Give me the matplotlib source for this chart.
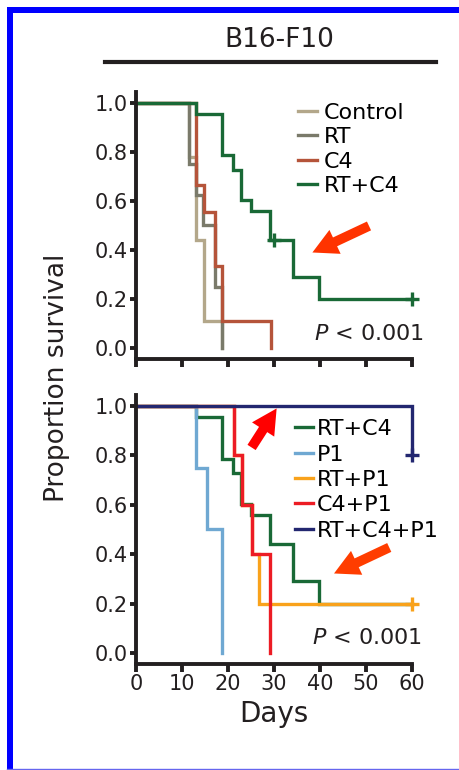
import matplotlib
matplotlib.use("Agg")
import matplotlib.pyplot as plt
from matplotlib.lines import Line2D
from matplotlib.patches import Rectangle

# Kaplan-Meier steps (days, proportion surviving)
ctrl_t = [0, 11.6, 13, 14.8, 18.6]
ctrl_s = [1, 0.78, 0.44, 0.11, 0]
rt_t = [0, 11.6, 13, 14.6, 17.2, 18.8]
rt_s = [1, 0.75, 0.625, 0.5, 0.25, 0]
c4_t = [0, 13, 14.8, 17.2, 18.8, 29.3]
c4_s = [1, 0.667, 0.556, 0.333, 0.111, 0]
rtc4_t = [0, 13, 18.8, 21, 22.8, 25.1, 29.2, 34.2, 39.8, 60]
rtc4_s = [1, 0.955, 0.787, 0.728, 0.605, 0.56, 0.44, 0.29, 0.2, 0.2]
rtc4_cens_t = [29.9, 60]
rtc4_cens_s = [0.44, 0.2]

p1_t = [0, 13, 15.4, 18.8]
p1_s = [1, 0.75, 0.5, 0]
rtp1_t = [0, 21.2, 23, 25.3, 26.8, 60]
rtp1_s = [1, 0.8, 0.6, 0.4, 0.2, 0.2]
rtp1_cens_t = [60]
rtp1_cens_s = [0.2]
c4p1_t = [0, 21.2, 23, 25.3, 29.2]
c4p1_s = [1, 0.8, 0.6, 0.4, 0]
all_t = [0, 60]
all_s = [1, 0.8]
all_cens_t = [60]
all_cens_s = [0.8]

x_ticks = [0, 10, 20, 30, 40, 50, 60]
y_ticks = [0.0, 0.2, 0.4, 0.6, 0.8, 1.0]

dark = "#231f20"
lw = 2.4
W, H = 459, 770
arrow = "simple,head_length=1.8,head_width=1.9,tail_width=0.7"

fig = plt.figure(figsize=(W / 100, H / 100), dpi=100)

def px_axes(left, right, top, bottom):
    return fig.add_axes([left / W, 1 - bottom / H, (right - left) / W, (bottom - top) / H])

def style(ax, labels):
    ax.set_xlim(0, 60)
    ax.set_ylim(-0.045, 1.045)
    for s in ["top", "right"]:
        ax.spines[s].set_visible(False)
    for s in ["left", "bottom"]:
        ax.spines[s].set_linewidth(2.8)
        ax.spines[s].set_color(dark)
    ax.set_xticks(x_ticks)
    ax.set_yticks(y_ticks)
    ax.set_yticklabels(["%.1f" % v for v in y_ticks])
    if labels:
        ax.set_xticklabels([str(v) for v in x_ticks])
    else:
        ax.set_xticklabels([])
    ax.tick_params(axis="x", length=6, width=2.8, color=dark, labelsize=15, pad=1.5, labelcolor=dark)
    ax.tick_params(axis="y", length=4.5, width=2.8, color=dark, labelsize=15, pad=1.5, labelcolor=dark)

def km(ax, t, s, color, label):
    ax.step(t, s, where="post", color=color, lw=lw, label=label, solid_joinstyle="miter", clip_on=False)

# top panel
ax1 = px_axes(136, 412, 92, 359)
style(ax1, False)
km(ax1, ctrl_t, ctrl_s, "#b3a78a", "Control")
km(ax1, rt_t, rt_s, "#7a7a6a", "RT")
km(ax1, c4_t, c4_s, "#b5543a", "C4")
km(ax1, rtc4_t, rtc4_s, "#196936", "RT+C4")
ax1.plot(rtc4_cens_t, rtc4_cens_s, ls="none", marker="+", ms=10, mew=2.4, color="#196936", clip_on=False)
ax1.legend(loc="upper left", bbox_to_anchor=(0.587, 0.96), frameon=False, fontsize=16,
           handlelength=0.85, handletextpad=0.3, labelspacing=0.2, borderpad=0, borderaxespad=0)
ax1.text(50.6, 0.057, "$P$ < 0.001", fontsize=16, ha="center", va="center", color=dark)
ax1.annotate("", xy=(37.8, 0.385), xytext=(51.2, 0.503),
             arrowprops=dict(arrowstyle=arrow, mutation_scale=10, color="#ff3300", lw=0),
             annotation_clip=False)

# bottom panel
ax2 = px_axes(136, 412, 395, 664)
style(ax2, True)
km(ax2, rtc4_t, rtc4_s, "#196936", "RT+C4")
km(ax2, p1_t, p1_s, "#6fa8d2", "P1")
km(ax2, rtp1_t, rtp1_s, "#f9a21b", "RT+P1")
km(ax2, c4p1_t, c4p1_s, "#ec1c24", "C4+P1")
km(ax2, all_t, all_s, "#232770", "RT+C4+P1")
ax2.plot(rtp1_cens_t, rtp1_cens_s, ls="none", marker="+", ms=10, mew=2.4, color="#f9a21b", clip_on=False)
ax2.plot(all_cens_t, all_cens_s, ls="none", marker="+", ms=10, mew=2.4, color="#232770", clip_on=False)
ax2.legend(loc="upper left", bbox_to_anchor=(0.576, 0.91), frameon=False, fontsize=16,
           handlelength=0.8, handletextpad=0.2, labelspacing=0.24, borderpad=0, borderaxespad=0)
ax2.text(50.1, 0.061, "$P$ < 0.001", fontsize=16, ha="center", va="center", color=dark)
ax2.annotate("", xy=(30.9, 1.0), xytext=(24.8, 0.823),
             arrowprops=dict(arrowstyle=arrow, mutation_scale=10, color="#ff0000", lw=0),
             annotation_clip=False)
ax2.annotate("", xy=(42.5, 0.317), xytext=(55.6, 0.432),
             arrowprops=dict(arrowstyle=arrow, mutation_scale=10, color="#ff3d00", lw=0),
             annotation_clip=False)
ax2.set_xlabel("Days", fontsize=20, color=dark, labelpad=4)

fig.text(57 / W, 1 - 378 / H, "Proportion survival", rotation=90, fontsize=19,
         ha="center", va="center", color=dark)

# title with rule underneath
fig.text(279 / W, 1 - 40 / H, "B16-F10", fontsize=19, ha="center", va="center", color=dark)
fig.add_artist(Line2D([105 / W, 436 / W], [1 - 62 / H, 1 - 62 / H], lw=3, color=dark))

# blue frame
fig.add_artist(Rectangle((7 / W, 0), 6 / W, 1 - 7 / H, transform=fig.transFigure, color="#0000ff", lw=0))
fig.add_artist(Rectangle((7 / W, 1 - 13 / H), 1, 6 / H, transform=fig.transFigure, color="#0000ff", lw=0))
fig.add_artist(Line2D([7 / W, 1], [0.8 / H, 0.8 / H], lw=1, color="#6666ee"))

fig.savefig("out.png", dpi=100)
